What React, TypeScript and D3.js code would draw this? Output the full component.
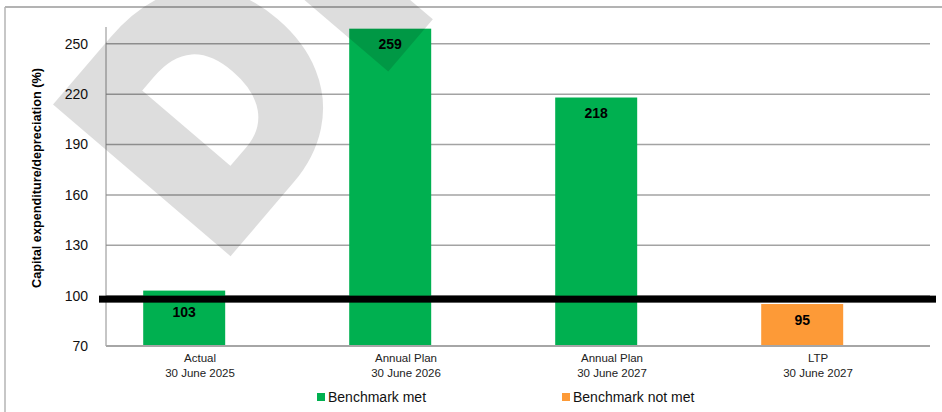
import React from "react";
import * as d3 from "d3";

// Chart data
const categoryNames = ["Actual", "Annual Plan", "Annual Plan", "LTP"];
const categoryDates = ["30 June 2025", "30 June 2026", "30 June 2027", "30 June 2027"];
const values = [103, 259, 218, 95];
const status = ["met", "met", "met", "notMet"];
const yTicks = [70, 100, 130, 160, 190, 220, 250];
const benchmark = 100;
const legendLabels = ["Benchmark met", "Benchmark not met"];
const yTitle = "Capital expenditure/depreciation (%)";
const watermarkText = "DRAFT";

const W = 942;
const H = 412;
const plot = { left: 106, right: 930, top: 27, bottom: 346 };
const colors: Record<string, string> = { met: "#00B050", notMet: "#FD9A37" };
const FONT = "'Liberation Sans', Arial, sans-serif";
const BENCH_THICK = 7;

export default function App() {
  const y = d3.scaleLinear().domain([70, 260]).range([plot.bottom, plot.top]);
  const idx = d3.range(values.length);
  const xCat = d3.scaleBand<number>().domain(idx).range([plot.left, plot.right]);
  const xBar = d3
    .scaleBand<number>()
    .domain(idx)
    .range([plot.left, plot.right])
    .paddingInner(0.602)
    .paddingOuter(0.301)
    .align(0.3);

  const legendPos = [
    { sq: 317, tx: 328 },
    { sq: 562, tx: 573 },
  ];

  // value labels sit inside the bar end, pushed below the benchmark rule when they would touch it
  const labelY = (v: number) => {
    const ly = y(v) + 20.5;
    const ruleBottom = y(benchmark) + BENCH_THICK;
    return ly - 12 < ruleBottom && ly > y(benchmark) ? ruleBottom + 14 : ly;
  };

  return (
    <svg
      width={W}
      height={H}
      viewBox={`0 0 ${W} ${H}`}
      style={{ position: "absolute", left: 0, top: 0, background: "#fff" }}
    >
      {/* outer frame */}
      <line x1={5} y1={7} x2={W} y2={7} stroke="#9a9a9a" strokeWidth={1.5} />
      <line x1={5} y1={7} x2={5} y2={H} stroke="#b4b4b4" strokeWidth={1.5} />

      {/* gridlines */}
      {yTicks
        .filter((t) => t !== 70)
        .map((t) => (
          <line
            key={t}
            x1={plot.left}
            x2={plot.right}
            y1={y(t)}
            y2={y(t)}
            stroke="#a3a3a3"
            strokeWidth={1.5}
          />
        ))}

      {/* y tick labels */}
      {yTicks.map((t) => (
        <text
          key={t}
          x={88}
          y={y(t)}
          dy="0.35em"
          textAnchor="end"
          fontFamily={FONT}
          fontSize={14}
          fill="#111"
        >
          {t}
        </text>
      ))}

      {/* y axis title */}
      <text
        transform={`translate(41,178) rotate(-90)`}
        textAnchor="middle"
        fontFamily={FONT}
        fontWeight="bold"
        fontSize={12.7}
        fill="#000"
      >
        {yTitle}
      </text>

      {/* bars */}
      {idx.map((i) => (
        <rect
          key={i}
          x={xBar(i)}
          width={xBar.bandwidth()}
          y={y(values[i])}
          height={y(70) - y(values[i])}
          fill={colors[status[i]]}
        />
      ))}

      {/* axes */}
      <line x1={plot.left} x2={plot.left} y1={plot.top} y2={plot.bottom} stroke="#8c8c8c" strokeWidth={1} />
      <line x1={plot.left} x2={plot.right} y1={plot.bottom} y2={plot.bottom} stroke="#a6a6a6" strokeWidth={2} />

      {/* benchmark line */}
      <rect
        x={plot.left - 7}
        width={plot.right - plot.left + 13}
        y={y(benchmark)}
        height={BENCH_THICK}
        fill="#000"
      />

      {/* value labels */}
      {idx.map((i) => (
        <text
          key={i}
          x={(xBar(i) as number) + xBar.bandwidth() / 2}
          y={labelY(values[i])}
          textAnchor="middle"
          fontFamily={FONT}
          fontWeight="bold"
          fontSize={14}
          fill="#000"
        >
          {values[i]}
        </text>
      ))}

      {/* category labels */}
      {idx.map((i) => {
        const cx = (xCat(i) as number) + xCat.bandwidth() / 2 - 9;
        return (
          <text key={i} x={cx} textAnchor="middle" fontFamily={FONT} fontSize={11.5} fill="#222">
            <tspan x={cx} y={362}>
              {categoryNames[i]}
            </tspan>
            <tspan x={cx} y={377}>
              {categoryDates[i]}
            </tspan>
          </text>
        );
      })}

      {/* legend */}
      {legendLabels.map((lab, i) => (
        <g key={lab}>
          <rect
            x={legendPos[i].sq}
            y={393}
            width={8}
            height={8}
            fill={colors[i === 0 ? "met" : "notMet"]}
          />
          <text x={legendPos[i].tx} y={402} fontFamily={FONT} fontSize={14} fill="#111">
            {lab}
          </text>
        </g>
      ))}

      {/* watermark */}
      <g opacity={0.13} pointerEvents="none">
        <text
          transform="translate(216,254) rotate(-49.5)"
          fontFamily={FONT}
          fontWeight="bold"
          fontSize={303}
          letterSpacing={24}
          fill="#000"
          stroke="#000"
          strokeWidth={25}
          strokeLinejoin="miter"
          strokeMiterlimit={10}
        >
          {watermarkText}
        </text>
      </g>
    </svg>
  );
}
